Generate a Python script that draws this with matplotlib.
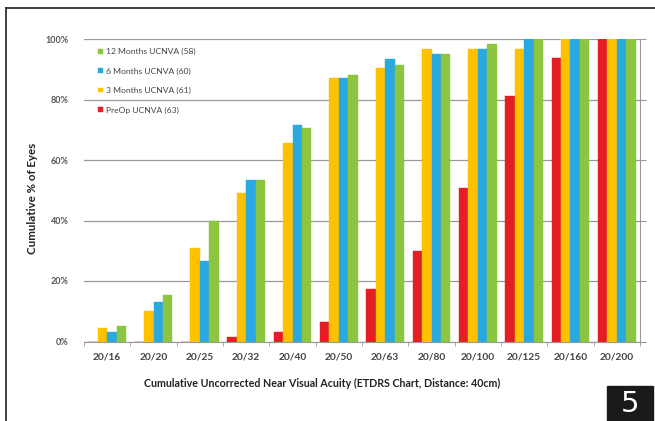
import matplotlib.pyplot as plt
import numpy as np
from matplotlib.ticker import PercentFormatter
from matplotlib.patches import Rectangle
from matplotlib.lines import Line2D

# Daten
kategorien = ["20/16", "20/20", "20/25", "20/32", "20/40", "20/50",
              "20/63", "20/80", "20/100", "20/125", "20/160", "20/200"]
preop = [0, 0, 0, 1.5, 3, 6.5, 17.5, 30, 50.8, 81, 93.7, 100]
m3 = [4.6, 10, 31, 49, 65.5, 87, 90.3, 96.7, 96.7, 96.7, 100, 100]
m6 = [3, 13, 26.5, 53.5, 71.5, 87, 93.3, 95, 96.7, 100, 100, 100]
m12 = [5, 15.5, 40, 53.5, 70.5, 88, 91.4, 95, 98.3, 100, 100, 100]

serien = [("PreOp UCNVA (63)", preop, "#E31E24"),
          ("3 Months UCNVA (61)", m3, "#FFC000"),
          ("6 Months UCNVA (60)", m6, "#29A9E0"),
          ("12 Months UCNVA (58)", m12, "#8CC540")]

plt.rcParams['font.family'] = ['Lato', 'DejaVu Sans']

fig = plt.figure(figsize=(6.55, 4.21), dpi=100)
ax = fig.add_axes([84/655, 1-341.5/421, 556/655, 302.5/421])

x = np.arange(len(kategorien))
b = 0.205
for i, (name, werte, farbe) in enumerate(serien):
    ax.bar(x + (i - 1.5)*b, werte, b, color=farbe, label=name,
           edgecolor=farbe, linewidth=0.3, zorder=3)

ax.set_xlim(-0.5, len(kategorien) - 0.5)
ax.set_ylim(0, 100)
ax.set_yticks([0, 20, 40, 60, 80, 100])
ax.yaxis.set_major_formatter(PercentFormatter(decimals=0))
ax.grid(axis="y", color="#999999", linewidth=0.9, zorder=0)

ax.set_xticks(x)
ax.set_xticklabels(kategorien, fontsize=7.3, color="#444444", fontweight="bold")
ax.set_xticks(np.arange(-0.5, len(kategorien)), minor=True)
ax.tick_params(axis="x", which="major", length=0, pad=8)
ax.tick_params(axis="x", which="minor", length=3, color="#999999", direction="out")
ax.tick_params(axis="y", labelsize=6.5, colors="#555555", length=0, pad=7,
               right=True, labelright=False)
ax.tick_params(axis="y", which="major", right=True, length=4, color="#999999")
ax.tick_params(axis="y", left=False)
for lab in ax.get_yticklabels():
    lab.set_fontweight("bold")

ax.spines["left"].set_visible(False)
ax.spines["top"].set_visible(False)
ax.spines["right"].set_color("#999999")
ax.spines["bottom"].set_color("#999999")

fig.text(33/655, 1-198/421, "Cumulative % of Eyes", rotation=90, fontsize=8.3,
         fontweight="bold", ha="center", va="center", color="#222222")
fig.text(322/655, 1-383/421,
         "Cumulative Uncorrected Near Visual Acuity (ETDRS Chart, Distance: 40cm)",
         ha="center", va="center", fontsize=7.7, fontweight="bold", color="#222222")

h, l = ax.get_legend_handles_labels()
leg = ax.legend(h[::-1], l[::-1], loc="upper left", bbox_to_anchor=(0.012, 0.995),
                frameon=False, fontsize=6.1, handlelength=0.5, handleheight=0.5,
                handletextpad=0.4, labelspacing=1.45)
for t in leg.get_texts():
    t.set_color("#444444")

# Rahmen und Nummer
fig.add_artist(Line2D([6/655, 6/655], [0, 1-8/421], color="#333333", lw=1.3,
                      transform=fig.transFigure))
fig.add_artist(Line2D([6/655, 1], [1-8/421, 1-8/421], color="#333333", lw=1.3,
                      transform=fig.transFigure))
fig.add_artist(Rectangle((607/655, 0), 46/655, 35/421, color="#1a1a1a",
                         transform=fig.transFigure))
fig.text(630/655, 17/421, "5", color="white", fontsize=21, ha="center",
         va="center", family="DejaVu Sans")

fig.savefig("out.png", dpi=100)
